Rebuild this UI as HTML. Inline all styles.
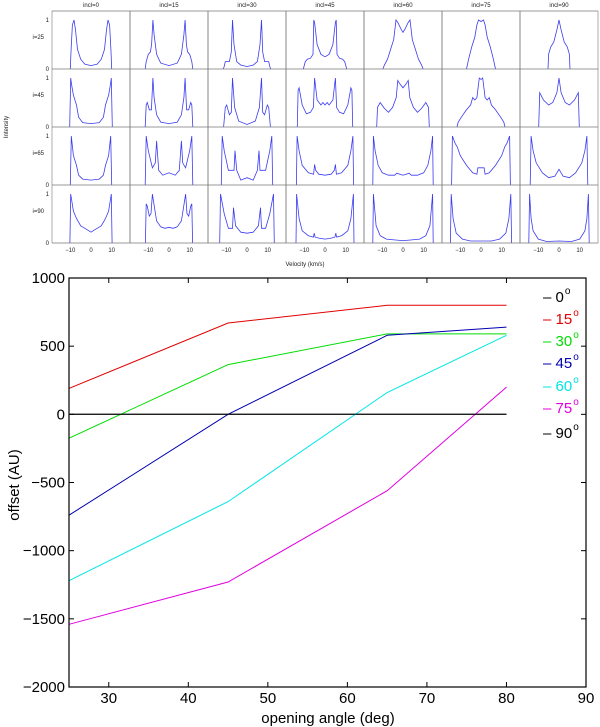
<!DOCTYPE html>
<html><head><meta charset="utf-8"><style>
body{margin:0;background:#fff;}
svg{display:block;font-family:"Liberation Sans",sans-serif;}
</style></head><body>
<svg id="c" width="600" height="727" viewBox="0 0 600 727" xmlns="http://www.w3.org/2000/svg"></svg>
<script>
// ---- top panel data ----
const inclLabels=["incl=0","incl=15","incl=30","incl=45","incl=60","incl=75","incl=90"];
const rowLabels=["i=25","i=45","i=65","i=90"];
const velTicks=[-10,0,10];
const profRow0=[
[[0,0.07],[3,0.1],[5,0.2],[6.5,0.4],[7.5,0.8],[8.2,1],[9,0.9],[9.6,0.4],[10,0]],
[[0,0.07],[4,0.12],[6,0.3],[7.2,0.7],[7.8,1],[8.4,0.5],[9,0.35],[10,0.3],[11,0.15],[11.5,0]],
[[0,0.05],[3,0.08],[5,0.15],[6.3,0.5],[7,1],[7.6,0.35],[8.5,0.15],[10.5,0.15],[11,0.05],[11.5,0]],
[[0,0.25],[2,0.3],[3.8,0.5],[5,0.95],[5.4,1],[5.8,0.3],[7,0.22],[8.5,0.2],[9.5,0.15],[10.5,0]],
[[0,0.75],[1,0.82],[2.5,0.95],[3.4,1],[4.5,0.6],[6,0.4],[7.5,0.2],[9,0.08],[9.7,0]],
[[0,0.97],[1.2,1],[2,0.9],[3,0.65],[4.5,0.45],[6,0.2],[7,0]],
[[0,1],[1,0.8],[2.5,0.55],[4,0.45],[5,0.3],[5.3,0]]];
const profRow1=[
[[0,0.07],[4,0.09],[6,0.2],[7,0.45],[8.5,0.65],[9.3,0.85],[9.8,1],[10.3,0]],
[[0,0.07],[4,0.1],[6,0.25],[7.2,0.6],[7.8,1],[8.5,0.35],[9.5,0.35],[10.5,0.5],[11,0.45],[11.5,0]],
[[0,0.05],[4,0.12],[6,0.4],[7,1],[7.6,0.3],[8.5,0.25],[9.8,0.45],[10.5,0.4],[11.3,0]],
[[0,0.45],[1,0.5],[2,0.45],[3.8,0.55],[5,1],[5.6,0.4],[7,0.3],[9,0.27],[11,0.45],[12.5,0.8],[13,0.75],[13.4,0]],
[[0,0.8],[1.5,0.88],[2.5,0.95],[3.3,0.6],[5,0.4],[7,0.3],[9,0.38],[11,0.5],[12.3,0.4],[12.7,0]],
[[0,0.97],[0.8,1],[2,0.6],[3,0.55],[4,0.6],[5,0.45],[7,0.35],[9.5,0.2],[11,0.1],[11.6,0]],
[[0,1],[1,0.7],[3,0.5],[5,0.45],[7.5,0.55],[9.3,0.7],[9.8,0]]];
const profRow2=[
[[0,0.1],[4,0.12],[6,0.2],[7,0.4],[8.5,0.6],[9.5,1],[10,0]],
[[0,0.25],[3,0.2],[5,0.3],[6,0.9],[6.6,0.45],[8,0.35],[10,0.7],[11,1],[11.5,0]],
[[0,0.15],[3,0.1],[5,0.3],[5.8,0.7],[6.3,0.3],[9,0.3],[11,0.7],[12,1],[12.4,0]],
[[0,0.2],[3,0.22],[4.5,0.3],[5,0.42],[5.5,0.22],[8,0.25],[11,0.4],[12.5,0.7],[13.5,1],[13.8,0]],
[[0,0.2],[3,0.24],[4,0.2],[7,0.2],[10,0.25],[12,0.4],[13.5,0.7],[14.3,1],[14.6,0]],
[[0,0.35],[1.5,0.35],[2,0.22],[4,0.25],[7,0.4],[10,0.6],[11.5,0.78],[12.5,0.85],[13.8,1],[14.2,0]],
[[0,0.32],[1,0.25],[2,0.18],[5,0.15],[8,0.25],[11,0.45],[12.5,0.7],[13.5,1],[13.9,0]]];
const profRow3=[
[[0,0.22],[1,0.25],[3,0.3],[5,0.35],[7,0.5],[8.5,0.65],[9.8,1],[10.2,0]],
[[0,0.32],[2,0.3],[4,0.33],[6,0.45],[7.3,0.8],[8,1],[8.7,0.6],[9.5,0.55],[10.5,0.75],[11,0.8],[11.4,0]],
[[0,0.2],[3,0.22],[5.5,0.35],[6.5,0.72],[7,0.3],[9,0.3],[11,0.6],[12.8,1],[13.2,0]],
[[0,0.08],[3,0.1],[4.8,0.12],[5.2,0.2],[5.6,0.12],[8,0.15],[11,0.25],[12.5,0.5],[13.7,1],[14,0]],
[[0,0.05],[3,0.06],[8,0.08],[11,0.15],[13,0.35],[14.3,1],[14.6,0]],
[[0,0.04],[5,0.04],[9,0.08],[12,0.2],[13.5,0.5],[14.4,1],[14.8,0]],
[[0,0.04],[6,0.03],[10,0.08],[12.5,0.25],[13.5,0.5],[14.2,1],[14.6,0]]];
const profiles=[profRow0,profRow1,profRow2,profRow3];

// ---- bottom chart data ----
const angles=[25,45,65,80];
const off0=[0,0,0,0];
const off15=[190,670,800,800];
const off30=[-175,365,590,590];
const off45=[-740,0,580,640];
const off60=[-1220,-640,160,580];
const off75=[-1540,-1230,-560,200];
const off90=[0,0,0,0];
const seriesNames=["0","15","30","45","60","75","90"];
const seriesColors=["#000","#e00000","#00dd00","#0000b0","#00e5e5","#e000e0","#000"];
const xTicks=[30,40,50,60,70,80,90];
const yTicks=[1000,500,0,-500,-1000,-1500,-2000];

const NS="http://www.w3.org/2000/svg";
const svg=document.getElementById('c');
function mk(tag,attrs,parent){const e=document.createElementNS(NS,tag);for(const k in attrs)e.setAttribute(k,attrs[k]);(parent||svg).appendChild(e);return e;}
function txt(s,x,y,size,anchor,fill,parent){const t=mk('text',{x:x,y:y,'font-size':size,'text-anchor':anchor||'middle',fill:fill||'#000'},parent);t.textContent=s;return t;}

// ---- top panel ----
const GL=52,GT=11,CW=78,CH=58,PX=2.07,IY=49;
const topG=mk('g',{});


function vx(c,v){return GL+CW*c+CW/2+v*PX;}
function iy(r,I){return GT+CH*(r+1)-I*IY;}
for(let r=0;r<4;r++){for(let c=0;c<7;c++){
  const pts=profiles[r][c];
  const all=[];
  for(let k=pts.length-1;k>=0;k--)all.push([-pts[k][0],pts[k][1]]);
  for(let k=1;k<pts.length;k++)all.push(pts[k]);
  const d=all.map((p,i)=>(i?'L':'M')+vx(c,p[0]).toFixed(1)+','+iy(r,p[1]).toFixed(1)).join('');
  const p=mk('path',{d:d,fill:'none',stroke:'#3b3bf0','stroke-width':0.8},topG);
  
  
}}
for(let c=0;c<=7;c++)mk('line',{x1:GL+CW*c,y1:GT,x2:GL+CW*c,y2:GT+CH*4,stroke:c===0||c===7?'#999':'#666','stroke-width':0.8},topG);
for(let r=0;r<=4;r++)mk('line',{x1:GL,y1:GT+CH*r,x2:GL+CW*7,y2:GT+CH*r,stroke:'#777','stroke-width':0.8},topG);
inclLabels.forEach((s,c)=>{const t=txt(s,GL+CW*c+CW/2,7,6,'middle','#222',topG);});
rowLabels.forEach((s,r)=>{
  const t=txt(s,44,GT+CH*r+28,6,'end','#222',topG);
  txt('1',49,iy(r,1)+2,6,'end','#222',topG);
  txt('0',49,iy(r,0)+2,6,'end','#222',topG);
});
for(let c=0;c<7;c++)velTicks.forEach(v=>{const t=txt(v===-10?'\u221210':String(v),vx(c,v),252,6,'middle','#222',topG);});
{const t=txt('Velocity (km/s)',305,266,6,'middle','#222',topG);}
{const t=txt('Intensity',0,0,6,'middle','#222',topG);t.setAttribute('transform','translate(8,127) rotate(-90)');}

// ---- bottom chart ----
const PL=69,PR=586,PT=278,PB=687,XMIN=25,XMAX=90,YMIN=-2000,YMAX=1000;
function sx(v){return PL+(v-XMIN)/(XMAX-XMIN)*(PR-PL);}
function sy(v){return PB-(v-YMIN)/(YMAX-YMIN)*(PB-PT);}
const bot=mk('g',{});


const allSeries=[off0,off15,off30,off45,off60,off75,off90];
allSeries.forEach((vals,i)=>{
  const d=vals.map((v,k)=>(k?'L':'M')+sx(angles[k]).toFixed(1)+','+sy(v).toFixed(1)).join('');
  const p=mk('path',{d:d,fill:'none',stroke:seriesColors[i],'stroke-width':1},bot);
  
  
});
{const f=mk('rect',{x:PL,y:PT,width:PR-PL,height:PB-PT,fill:'none',stroke:'#000','stroke-width':1.2},bot);}
xTicks.forEach(v=>{
  mk('line',{x1:sx(v),y1:PB,x2:sx(v),y2:PB-5,stroke:'#000'},bot);
  mk('line',{x1:sx(v),y1:PT,x2:sx(v),y2:PT+5,stroke:'#000'},bot);
  const t=txt(String(v),sx(v),703,15,'middle','#000',bot);
});
yTicks.forEach(v=>{
  mk('line',{x1:PL,y1:sy(v),x2:PL+5,y2:sy(v),stroke:'#000'},bot);
  mk('line',{x1:PR,y1:sy(v),x2:PR-5,y2:sy(v),stroke:'#000'},bot);
  const t=txt(v<0?'\u2212'+(-v):String(v),65,sy(v)+5,15,'end','#000',bot);
});
{const t=txt('opening angle (deg)',328,723,15,'middle','#000',bot);}
{const t=txt('offset (AU)',0,0,15,'middle','#000',bot);t.setAttribute('transform','translate(19,485) rotate(-90)');}
const legY=[302,324,346,368,391,413,438];
seriesNames.forEach((n,i)=>{
  const g=mk('g',{},bot);
  
  
  const label=n.length===1?' '+n:n;
  const t=txt('\u2013 '+n,543,legY[i],15,'start',seriesColors[i],g);
  const w=t.getComputedTextLength?t.getComputedTextLength():30;
  txt('o',543+w+1,legY[i]-8,10,'start',seriesColors[i],g);
});
</script>
</body></html>
